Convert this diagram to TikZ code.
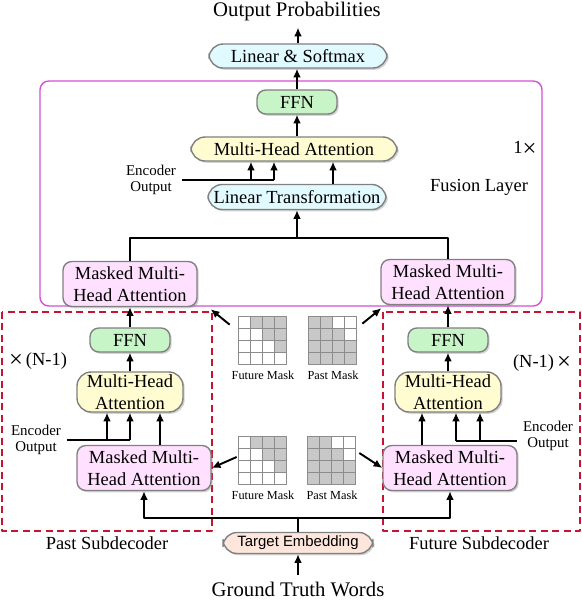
\documentclass[tikz,border=0pt]{standalone}
\usepackage{fontspec}
\setmainfont{Liberation Serif}
\setsansfont{Liberation Sans}
\usetikzlibrary{arrows.meta,shadows,positioning}
\definecolor{boxline}{RGB}{128,128,128}
\definecolor{lscyan}{RGB}{225,250,255}
\definecolor{ffngreen}{RGB}{200,245,200}
\definecolor{mhayellow}{RGB}{255,252,210}
\definecolor{mmpink}{RGB}{255,225,255}
\definecolor{embpeach}{RGB}{255,230,220}
\definecolor{fusemag}{RGB}{210,80,210}
\definecolor{subred}{RGB}{200,20,50}
\definecolor{maskgray}{RGB}{200,200,200}
\definecolor{maskline}{RGB}{140,140,140}
\newcommand{\bigx}{\raisebox{-1.3pt}{\fontsize{14}{14}\selectfont ×}}
\begin{document}
\begin{tikzpicture}[x=.02cm,y=-.02cm,>={Latex[length=5pt,width=4.5pt]},
    font=\fontsize{10.5}{12.5}\selectfont, line join=round,
    blk/.style={draw=boxline, line width=.8pt, rounded corners=5pt, inner sep=1pt, align=center,
        drop shadow={shadow xshift=1pt, shadow yshift=-1pt, opacity=.35}},
    tapeblk/.style={blk, rounded corners=8pt},
    ffn/.style={blk, fill=ffngreen, minimum width=1.6cm, minimum height=.48cm},
    mha/.style={tapeblk, fill=mhayellow},
    mmha/.style={blk, fill=mmpink, minimum width=2.68cm, minimum height=.9cm},
    arr/.style={->, line width=1.1pt},
    wire/.style={line width=1.1pt},
    note/.style={font=\fontsize{8.5}{9}\selectfont, align=center},
    big/.style={font=\fontsize{11.8}{14}\selectfont},
    subdec/.style={draw=subred, line width=1pt, dash pattern=on 4pt off 2.5pt},
    maskbox/.style={minimum size=.96cm, inner sep=0pt},
    maskcell/.style={draw=maskline, line width=.6pt},
    masklbl/.style={font=\fontsize{7}{8}\selectfont, inner sep=1pt}]
    \useasboundingbox (0,0) rectangle (582,600);
    % frames
    \draw[draw=fusemag, line width=.8pt, rounded corners=5pt] (40,81) rectangle (542,306);
    \draw[subdec] (2,312) rectangle (212,531);
    \draw[subdec] (383,312) rectangle (580,531);
    % fusion layer
    \node[big] (outp) at (297,12) {Output Probabilities};
    \node[tapeblk, fill=lscyan, minimum width=3.56cm, minimum height=.48cm] (lsm) at (298,56) {Linear \& Softmax};
    \node[ffn] (ffnF) at (297,102) {FFN};
    \node[mha, minimum width=4.12cm, minimum height=.48cm] (mhaF) at (294,149) {Multi-Head Attention};
    \node[tapeblk, fill=lscyan, minimum width=3.56cm, minimum height=.5cm] (ltF) at (297,197) {Linear Transformation};
    \node[note] (encF) at (151,180) {Encoder\\Output};
    \node (oneX) at (525,149) {1\bigx};
    \node (fusL) at (479,187) {Fusion Layer};
    \node[mmha] (mmFL) at (130,284) {Masked Multi-\\Head Attention};
    \node[mmha] (mmFR) at (448,282) {Masked Multi-\\Head Attention};
    % past subdecoder
    \node[ffn] (ffnP) at (130,340) {FFN};
    \node[mha, minimum width=2.12cm, minimum height=.8cm] (mhaP) at (130,392) {Multi-Head\\Attention};
    \node[mmha] (mmP) at (144,468) {Masked Multi-\\Head Attention};
    \node (nP) at (38,361) {\bigx\,(N-1)};
    \node[note] (encP) at (36,440) {Encoder\\Output};
    \node (pastL) at (107,543) {Past Subdecoder};
    % future subdecoder
    \node[ffn] (ffnR) at (448,340) {FFN};
    \node[mha, minimum width=2.12cm, minimum height=.8cm] (mhaR) at (448,392) {Multi-Head\\Attention};
    \node[mmha] (mmR) at (450,468) {Masked Multi-\\Head Attention};
    \node (nR) at (542,363) {(N-1)\,\bigx};
    \node[note] (encR) at (548,436) {Encoder\\Output};
    \node (futL) at (479,543) {Future Subdecoder};
    % input
    \node[tapeblk, fill=embpeach, font=\sffamily\fontsize{8.5}{10}\selectfont, minimum width=3cm, minimum height=.42cm] (emb) at (298,543) {Target Embedding};
    \node[big] (gtw) at (298,589) {Ground Truth Words};
    % masks
    \node[maskbox] (fmT) at (263,341) {};
    \node[maskbox] (pmT) at (333,341) {};
    \node[maskbox] (fmB) at (263,461) {};
    \node[maskbox] (pmB) at (332,461) {};
    \foreach \m/\p in {fmT/0,pmT/1,fmB/0,pmB/1}
        \foreach \i in {0,...,3}
            \foreach \j in {0,...,3}{
                \pgfmathtruncatemacro\g{(\p==0)*(\j>\i)+(\p==1)*(\j<\i+2)}
                \ifnum\g>0 \def\cf{maskgray}\else\def\cf{white}\fi
                \draw[maskcell, fill=\cf] ([shift={(12*\j,12*\i)}]\m.north west) rectangle ++(12,12);
            }
    \node[masklbl, below=2pt of fmT] (fmTl) {Future Mask};
    \node[masklbl, below=2pt of pmT] (pmTl) {Past Mask};
    \node[masklbl, below=2pt of fmB] (fmBl) {Future Mask};
    \node[masklbl, below=2pt of pmB] (pmBl) {Past Mask};
    % connectors, fusion layer
    \draw[arr] (lsm.north) -- (lsm.north |- outp.south);
    \draw[arr] (ffnF.north) -- (ffnF.north |- lsm.south);
    \draw[arr] (mhaF.north -| ffnF) -- (ffnF.south);
    \draw[wire] (encF.east) -- (274,0 |- encF.east);
    \draw[arr] (251,0 |- encF.east) -- (251,0 |- mhaF.south);
    \draw[arr] (274,0 |- encF.east) -- (274,0 |- mhaF.south);
    \draw[arr] (333,0 |- ltF.north) -- (333,0 |- mhaF.south);
    \coordinate (merge) at (297,238);
    \draw[wire] (mmFL.north) |- (merge) -| (mmFR.north);
    \draw[arr] (merge) -- (ltF.south);
    % connectors, past side
    \draw[arr] (ffnP.north) -- (ffnP.north |- mmFL.south);
    \draw[arr] (mhaP.north) -- (mhaP.north |- ffnP.south);
    \draw[arr] (160,0 |- mmP.north) -- (160,0 |- mhaP.south);
    \draw[wire] (encP.east) -- (130,0 |- encP.east);
    \draw[arr] (107,0 |- encP.east) -- (107,0 |- mhaP.south);
    \draw[arr] (130,0 |- encP.east) -- (130,0 |- mhaP.south);
    % connectors, future side
    \draw[arr] (ffnR.north) -- (ffnR.north |- mmFR.south);
    \draw[arr] (mhaR.north) -- (mhaR.north |- ffnR.south);
    \draw[arr] (422,0 |- mmR.north) -- (422,0 |- mhaR.south);
    \draw[wire] (encR.west |- 0,441) -- (456,441);
    \draw[arr] (456,441) -- (456,0 |- mhaR.south);
    \draw[arr] (480,441) -- (480,0 |- mhaR.south);
    % input wires
    \coordinate (split) at (298,518);
    \draw[wire] (emb.north) -- (split);
    \draw[arr] (split) -| (mmP.south);
    \draw[arr] (split) -| (mmR.south);
    \draw[arr] (gtw.north) -- (emb.south);
    % mask arrows
    \draw[arr] ([shift={(-9,8)}]fmT.north west) -- ([shift={(13,2)}]mmFL.south east);
    \draw[arr] ([shift={(5,7)}]pmT.north east) -- ([shift={(1,3)}]mmFR.south west);
    \draw[arr] ([shift={(-2,-4)}]fmB.west) -- (mmP.east);
    \draw[arr] ([shift={(3,-8)}]pmB.east) -- (mmR.west);
\end{tikzpicture}
\end{document}
